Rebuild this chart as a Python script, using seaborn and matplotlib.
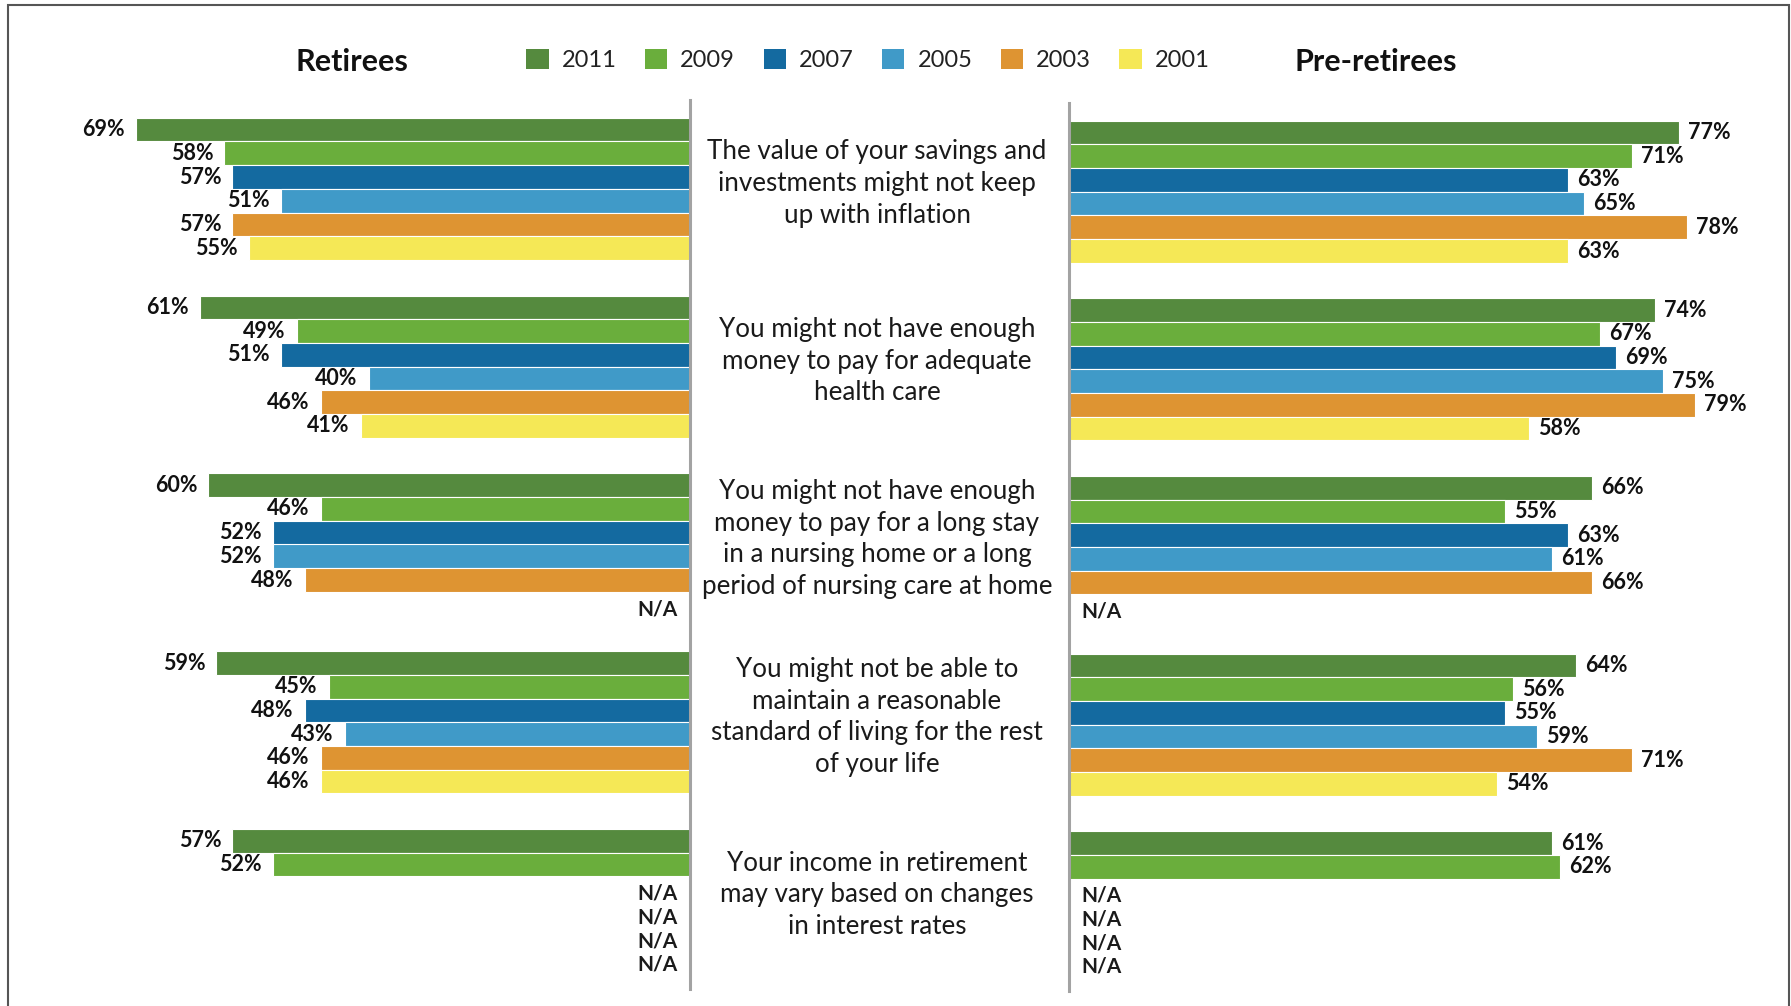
import numpy as np
import pandas as pd
import matplotlib
matplotlib.use("Agg")
import matplotlib.pyplot as plt
import matplotlib.transforms as mtransforms
from matplotlib.patches import Patch, Rectangle
import seaborn as sns

nan = np.nan

# Survey years (legend order) and their colours
years = ["2011", "2009", "2007", "2005", "2003", "2001"]
year_colors = ["#558A3E", "#6AAE3C", "#146AA0", "#409AC8", "#DE9432", "#F5E856"]

# Risk concerns (shown between the two panels)
concerns = [
    "The value of your savings and\ninvestments might not keep\nup with inflation",
    "You might not have enough\nmoney to pay for adequate\nhealth care",
    "You might not have enough\nmoney to pay for a long stay\nin a nursing home or a long\nperiod of nursing care at home",
    "You might not be able to\nmaintain a reasonable\nstandard of living for the rest\nof your life",
    "Your income in retirement\nmay vary based on changes\nin interest rates",
]

# Retirees: % concerned, one list per survey year (NaN = N/A)
retirees_2011 = [69, 61, 60, 59, 57]
retirees_2009 = [58, 49, 46, 45, 52]
retirees_2007 = [57, 51, 52, 48, nan]
retirees_2005 = [51, 40, 52, 43, nan]
retirees_2003 = [57, 46, 48, 46, nan]
retirees_2001 = [55, 41, nan, 46, nan]

# Pre-retirees
pre_2011 = [77, 74, 66, 64, 61]
pre_2009 = [71, 67, 55, 56, 62]
pre_2007 = [63, 69, 63, 55, nan]
pre_2005 = [65, 75, 61, 59, nan]
pre_2003 = [78, 79, 66, 71, nan]
pre_2001 = [63, 58, nan, 54, nan]

retirees = [retirees_2011, retirees_2009, retirees_2007,
            retirees_2005, retirees_2003, retirees_2001]
pre_retirees = [pre_2011, pre_2009, pre_2007, pre_2005, pre_2003, pre_2001]

concern_ids = [f"c{i}" for i in range(len(concerns))]


def long_frame(series):
    rows = []
    for yr, vals in zip(years, series):
        for cid, v in zip(concern_ids, vals):
            rows.append({"concern": cid, "year": yr, "value": v})
    return pd.DataFrame(rows)


sns.set_theme(style="white")
plt.rcParams["font.family"] = ["Lato", "DejaVu Sans"]

W, H = 1791, 1006
fig = plt.figure(figsize=(W / 100, H / 100), dpi=100)
fig.patch.set_facecolor("white")

ax_l = fig.add_axes([100 / W, 1 - 989 / H, 590 / W, 889 / H])
ax_r = fig.add_axes([1069 / W, 1 - 991 / H, 691 / W, 888 / H])

n_years = len(years)
bar_w = 0.8
label_kw = dict(fontsize=15.5, fontweight="bold", color="#111111", va="center")
na_kw = dict(fontsize=15, fontweight="bold", color="#1a1a1a", va="center")

for ax, series, side in [(ax_l, retirees, "left"), (ax_r, pre_retirees, "right")]:
    df = long_frame(series)
    sns.barplot(data=df, x="value", y="concern", hue="year",
                order=concern_ids, hue_order=years, palette=year_colors,
                saturation=1, orient="h", width=bar_w, dodge=True,
                errorbar=None, edgecolor="white", linewidth=0.8,
                legend=False, ax=ax)
    ax.set_ylim(4.5, -0.5)
    if side == "left":
        ax.set_xlim(73.5, 0)
    else:
        ax.set_xlim(0, 87.2)
    ax.set_xlabel("")
    ax.set_ylabel("")
    ax.set_xticks([])
    ax.set_yticks([])
    for s in ax.spines.values():
        s.set_visible(False)
    zero_spine = ax.spines["right" if side == "left" else "left"]
    zero_spine.set_visible(True)
    zero_spine.set_color("#A3A3A3")
    zero_spine.set_linewidth(2.2)

    # value labels and N/A markers, positioned from the data
    step = bar_w / n_years
    for hi, vals in enumerate(series):
        for ci, v in enumerate(vals):
            yc = ci - bar_w / 2 + step * (hi + 0.5)
            if np.isnan(v):
                dx = -9 if side == "left" else 9
                ha = "right" if side == "left" else "left"
                ax.annotate("N/A", (0, yc), xytext=(dx, -4),
                            textcoords="offset points", ha=ha, **na_kw)
                continue
            if side == "left":
                ax.annotate(f"{v:.0f}%", (v, yc), xytext=(-8, 0),
                            textcoords="offset points", ha="right", **label_kw)
            else:
                ax.annotate(f"{v:.0f}%", (v, yc), xytext=(6.5, 0),
                            textcoords="offset points", ha="left", **label_kw)

# Concern descriptions in the middle column
mid = mtransforms.blended_transform_factory(fig.transFigure, ax_l.transData)
for ci, text in enumerate(concerns):
    fig.text(877 / W, ci - 0.03, text, transform=mid, ha="center", va="center",
             fontsize=18.7, color="#1a1a1a", linespacing=1.33)

# Panel titles
fig.text(352 / W, 1 - 62 / H, "Retirees", ha="center", va="center",
         fontsize=22, fontweight="bold", color="#111111")
fig.text(1376 / W, 1 - 62 / H, "Pre-retirees", ha="center", va="center",
         fontsize=22, fontweight="bold", color="#111111")

# Year legend
handles = [Patch(facecolor=c, edgecolor="none", label=y)
           for y, c in zip(years, year_colors)]
fig.legend(handles=handles, loc="center", bbox_to_anchor=(868 / W, 1 - 60 / H),
           ncol=6, frameon=False, fontsize=17, handlelength=0.95,
           handleheight=0.95, handletextpad=0.55, columnspacing=1.2,
           labelcolor="#222222")

# Outer frame
fig.patches.append(Rectangle((8 / W, -0.02), (1789 - 8) / W, 1.02 - 5 / H,
                             transform=fig.transFigure, fill=False,
                             edgecolor="#555555", linewidth=1.5))

fig.savefig("out.png", dpi=100, facecolor="white")
